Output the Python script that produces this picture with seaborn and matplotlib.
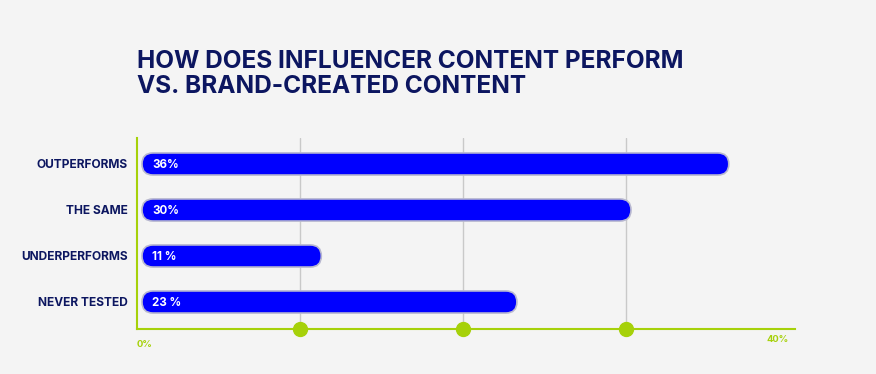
import matplotlib
matplotlib.use("Agg")
import matplotlib.pyplot as plt
import pandas as pd
import seaborn as sns
from matplotlib.patches import FancyBboxPatch

categories = ["OUTPERFORMS", "THE SAME", "UNDERPERFORMS", "NEVER TESTED"]
values = [36, 30, 11, 23]
value_labels = ["36%", "30%", "11 %", "23 %"]
title = "HOW DOES INFLUENCER CONTENT PERFORM\nVS. BRAND-CREATED CONTENT"

BG = "#f4f4f4"
NAVY = "#0c1660"
BLUE = "#0000ff"
LIME = "#a6d10a"
GRID = "#c9c9c9"

df = pd.DataFrame({"category": categories, "value": values})

sns.set_style("white")
plt.rcParams["font.family"] = ["Inter", "DejaVu Sans"]

fig = plt.figure(figsize=(8.76, 3.74), dpi=100, facecolor=BG)
ax = fig.add_axes([137 / 876, 45 / 374, (795 - 137) / 876, 191 / 374])
ax.set_facecolor(BG)

sns.barplot(data=df, x="value", y="category", orient="h", color=BLUE,
            width=0.48, ax=ax)

xmax = 40 * (795 - 137) / (789 - 137)
ax.set_xlim(0, xmax)
ax.set_ylim(3.587, -0.565)

# rounded bars, nudged a few pixels right of the axis
px = xmax / (795 - 137)
ypx = (3.587 + 0.565) / 191
shift = 5 * px
for bar in list(ax.patches):
    x0, y0 = bar.get_x(), bar.get_y()
    w, h = bar.get_width(), bar.get_height()
    bar.remove()
    r = 11 * px
    fb = FancyBboxPatch((x0 + shift, y0), w, h,
                        boxstyle=f"round,pad=0,rounding_size={r}",
                        mutation_aspect=ypx / px,
                        facecolor=BLUE, edgecolor="#b8b8d0", linewidth=1.2,
                        zorder=3)
    ax.add_patch(fb)

for i, lab in enumerate(value_labels):
    ax.text(shift + 10 * px, i + 0.03, lab, color="white", fontsize=8.3,
            fontweight="bold", va="center", ha="left", zorder=4)

for g in (10, 20, 30):
    ax.axvline(g, color=GRID, linewidth=1, zorder=1)
    ax.plot(g, 3.587, "o", color=LIME, markersize=10, clip_on=False, zorder=5)

for s in ("top", "right"):
    ax.spines[s].set_visible(False)
for s in ("left", "bottom"):
    ax.spines[s].set_color(LIME)
    ax.spines[s].set_linewidth(1.5)

ax.set_xticks([])
ax.set_xlabel("")
ax.set_ylabel("")
ax.tick_params(axis="y", length=0, pad=6.5)
for t in ax.get_yticklabels():
    t.set_color(NAVY)
    t.set_fontweight("bold")
    t.set_fontsize(8.6)

ax.text(0, -0.06, "0%", transform=ax.transAxes, color=LIME, fontsize=6.8,
        fontweight="bold", ha="left", va="top")
ax.text(40, 3.587 + 6 * ypx, "40%", color=LIME, fontsize=6.8,
        fontweight="bold", ha="right", va="top", clip_on=False)

fig.text(137 / 876, 1 - 50 / 374, title, color=NAVY, fontsize=17.6,
         fontweight="bold", ha="left", va="top", linespacing=1.12)

plt.savefig("out.png", dpi=100, facecolor=BG)
